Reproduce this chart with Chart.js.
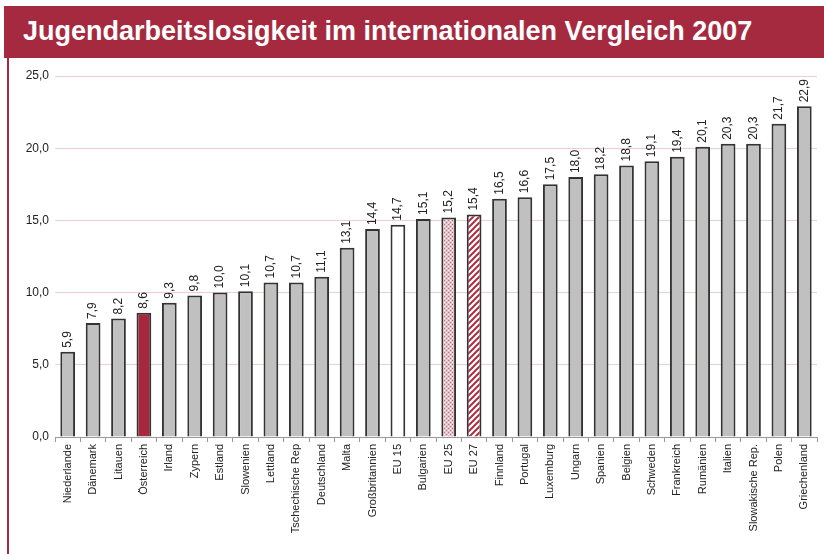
<!DOCTYPE html>
<html>
<head>
<meta charset="utf-8">
<script src="https://cdn.jsdelivr.net/npm/chart.js@4.4.0/dist/chart.umd.min.js"></script>
<style>
  body { margin: 0; background: #fff; }
  #wrap { position: relative; width: 824px; height: 554px; overflow: hidden; }
  #title {
    position: absolute; left: 4px; top: 6px; width: 820px; height: 52px;
    background: #a52a3f; color: #fff;
    font: bold 27px "Liberation Sans", Arial, sans-serif;
    line-height: 50px; padding-left: 19px; box-sizing: border-box;
  }
  #leftline { position: absolute; left: 7px; top: 58px; width: 2px; height: 496px; background: #a52a3f; }
  canvas { position: absolute; left: 0; top: 0; }
</style>
</head>
<body>
<div id="wrap">
  <canvas id="barChart" width="824" height="554"></canvas>
  <div id="title">Jugendarbeitslosigkeit im internationalen Vergleich 2007</div>
  <div id="leftline"></div>
</div>
<script>
const countries = ['Niederlande', 'Dänemark', 'Litauen', 'Österreich', 'Irland', 'Zypern', 'Estland', 'Slowenien',
    'Lettland', 'Tschechische Rep', 'Deutschland', 'Malta', 'Großbritannien', 'EU 15', 'Bulgarien', 'EU 25', 'EU 27',
    'Finnland', 'Portugal', 'Luxemburg', 'Ungarn', 'Spanien', 'Belgien', 'Schweden', 'Frankreich', 'Rumänien',
    'Italien', 'Slowakische Rep.', 'Polen', 'Griechenland'];
const rates = [5.9, 7.9, 8.2, 8.6, 9.3, 9.8, 10.0, 10.1, 10.7, 10.7, 11.1, 13.1, 14.4, 14.7, 15.1, 15.2, 15.4,
    16.5, 16.6, 17.5, 18.0, 18.2, 18.8, 19.1, 19.4, 20.1, 20.3, 20.3, 21.7, 22.9];
const yTicks = [0, 5, 10, 15, 20, 25];

function fmt(v) { return v.toFixed(1).replace('.', ','); }

// patterns for the EU bars
function makePattern(kind) {
    const c = document.createElement('canvas');
    c.width = 4; c.height = 4;
    const g = c.getContext('2d');
    if (kind === 'dots') {
        g.fillStyle = '#e6c3c8';
        g.fillRect(0, 0, 4, 4);
        g.fillStyle = '#b8707c';
        g.fillRect(0, 0, 1, 1);
        g.fillRect(2, 2, 1, 1);
        g.fillStyle = '#ffffff';
        g.fillRect(2, 0, 1, 1);
        g.fillRect(0, 2, 1, 1);
    } else {
        c.width = 6; c.height = 6;
        g.fillStyle = '#ffffff';
        g.fillRect(0, 0, 6, 6);
        g.strokeStyle = '#b02e42';
        g.lineWidth = 2;
        g.beginPath();
        g.moveTo(-1, 7); g.lineTo(7, -1);
        g.moveTo(-4, 4); g.lineTo(4, -4);
        g.moveTo(2, 10); g.lineTo(10, 2);
        g.stroke();
    }
    return document.createElement('canvas').getContext('2d').createPattern(c, 'repeat');
}

const dotPattern = makePattern('dots');
const stripePattern = makePattern('stripes');

const fills = countries.map(function (c) {
    if (c === 'Österreich') return '#a6283c';
    if (c === 'EU 15') return '#ffffff';
    if (c === 'EU 25') return dotPattern;
    if (c === 'EU 27') return stripePattern;
    return '#c0c0c0';
});

const valueLabels = {
    id: 'valueLabels',
    afterDatasetsDraw(chart) {
        const ctx = chart.ctx;
        const meta = chart.getDatasetMeta(0);
        ctx.save();
        ctx.fillStyle = '#222';
        ctx.font = '12px "Liberation Sans", Arial, sans-serif';
        ctx.textAlign = 'left';
        ctx.textBaseline = 'middle';
        meta.data.forEach(function (bar, i) {
            ctx.save();
            ctx.translate(bar.x, bar.y - 4);
            ctx.rotate(-Math.PI / 2);
            ctx.fillText(fmt(rates[i]), 0, 0);
            ctx.restore();
        });
        ctx.restore();
    }
};

const ctx = document.getElementById('barChart').getContext('2d');
const chart = new Chart(ctx, {
    type: 'bar',
    data: {
        labels: countries,
        datasets: [{
            data: rates,
            backgroundColor: fills,
            borderColor: '#333333',
            borderWidth: 2,
            barPercentage: 0.58,
            categoryPercentage: 1.0
        }]
    },
    options: {
        responsive: false,
        animation: false,
        layout: { padding: { top: 76, right: 7, left: 0, bottom: 0 } },
        plugins: {
            legend: { display: false },
            tooltip: { enabled: false }
        },
        scales: {
            x: {
                afterFit: function (scale) { scale.height = 117; },
                grid: { display: true, drawOnChartArea: false, drawTicks: true, tickLength: 5, color: '#999', offset: true },
                border: { display: true, color: '#999', width: 1 },
                ticks: {
                    minRotation: 90, maxRotation: 90, autoSkip: false,
                    color: '#222', padding: 2,
                    font: { family: '"Liberation Sans", Arial, sans-serif', size: 11 }
                }
            },
            y: {
                min: 0, max: 25,
                afterFit: function (scale) { scale.width = 55; },
                afterBuildTicks: function (scale) { scale.ticks = yTicks.map(function (v) { return { value: v }; }); },
                grid: { color: '#ecd0d0', drawTicks: false },
                border: { display: false },
                ticks: {
                    color: '#222', padding: 6,
                    font: { family: '"Liberation Sans", Arial, sans-serif', size: 12 },
                    callback: function (v) { return fmt(v); }
                }
            }
        }
    },
    plugins: [valueLabels]
});
</script>
</body>
</html>
